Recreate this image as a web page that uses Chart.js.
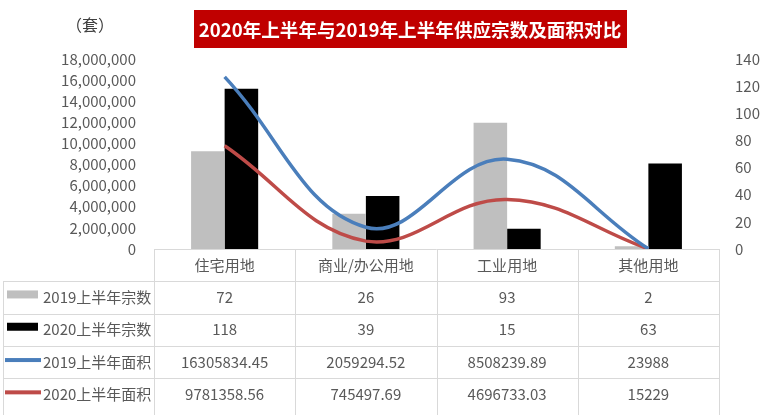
<!DOCTYPE html>
<html>
<head>
<meta charset="utf-8">
<script src="https://cdn.jsdelivr.net/npm/chart.js@4/dist/chart.umd.min.js"></script>
<style>
html,body{margin:0;padding:0;background:#fff;}
#wrap{width:767px;height:415px;position:relative;}
</style>
</head>
<body>
<div id="wrap"><canvas id="c" width="767" height="415"></canvas></div>
<script>
const categories = ['住宅用地', '商业/办公用地', '工业用地', '其他用地'];
const count2019 = [72, 26, 93, 2];
const count2020 = [118, 39, 15, 63];
const area2019 = [16305834.45, 2059294.52, 8508239.89, 23988];
const area2020 = [9781358.56, 745497.69, 4696733.03, 15229];
const areaLabels2019 = ['16305834.45', '2059294.52', '8508239.89', '23988'];
const areaLabels2020 = ['9781358.56', '745497.69', '4696733.03', '15229'];
const seriesNames = ['2019上半年宗数', '2020上半年宗数', '2019上半年面积', '2020上半年面积'];
const titleText = '2020年上半年与2019年上半年供应宗数及面积对比';
const unitText = '（套）';

const FONT = '"Noto Sans CJK SC", "Noto Sans", sans-serif';
const TXT = '#595959';
const GRID = '#d9d9d9';
const colors = ['#bfbfbf', '#000000', '#4a7ebb', '#be4b48'];

const tablePlugin = {
  id: 'tablePlugin',
  afterDraw(chart) {
    const ctx = chart.ctx;
    const ca = chart.chartArea;
    const x = chart.scales.x;
    const left = ca.left, right = ca.right, top = ca.bottom;
    const rowH = 32.3;
    const legendLeft = 3;
    ctx.save();
    ctx.strokeStyle = GRID;
    ctx.lineWidth = 1;
    const n = categories.length;
    const colW = (right - left) / n;
    ctx.beginPath();
    for (let i = 0; i <= n; i++) {
      const xx = Math.round(left + i * colW) + 0.5;
      ctx.moveTo(xx, top);
      ctx.lineTo(xx, 415);
    }
    ctx.moveTo(legendLeft + 0.5, top + rowH);
    ctx.lineTo(legendLeft + 0.5, 415);
    ctx.moveTo(left, Math.round(top) + 0.5);
    ctx.lineTo(right, Math.round(top) + 0.5);
    for (let r = 1; r <= 4; r++) {
      const yy = Math.round(top + r * rowH) + 0.5;
      ctx.moveTo(legendLeft, yy);
      ctx.lineTo(right, yy);
    }
    ctx.stroke();

    ctx.fillStyle = TXT;
    ctx.font = '15px ' + FONT;
    ctx.textAlign = 'center';
    ctx.textBaseline = 'middle';
    categories.forEach((c, i) => {
      ctx.fillText(c, x.getPixelForValue(i), top + rowH / 2);
    });
    const rows = [
      count2019.map(String),
      count2020.map(String),
      areaLabels2019,
      areaLabels2020
    ];
    rows.forEach((row, r) => {
      const cy = top + rowH * (r + 1) + rowH / 2;
      row.forEach((v, i) => {
        ctx.fillText(v, x.getPixelForValue(i), cy);
      });
    });
    rows.forEach((row, r) => {
      const cy = top + rowH * (r + 1) + rowH / 2;
      ctx.fillStyle = colors[r];
      if (r < 2) {
        ctx.fillRect(7, cy - 7, 31, 8);
      } else {
        ctx.fillRect(5, cy - 4, 36, 4);
      }
      ctx.fillStyle = TXT;
      ctx.textAlign = 'left';
      ctx.fillText(seriesNames[r], 43, cy);
      ctx.textAlign = 'center';
    });

    ctx.fillStyle = '#c00000';
    ctx.fillRect(194, 10, 433, 38);
    ctx.fillStyle = '#ffffff';
    ctx.font = 'bold 18.6px ' + FONT;
    ctx.textAlign = 'center';
    ctx.fillText(titleText, 410, 29.5);

    ctx.fillStyle = '#404040';
    ctx.font = '16px ' + FONT;
    ctx.fillText(unitText, 90, 25);
    ctx.restore();
  }
};

new Chart(document.getElementById('c'), {
  type: 'bar',
  data: {
    labels: categories,
    datasets: [
      { type: 'line', label: seriesNames[2], data: area2019, yAxisID: 'y', borderColor: colors[2], borderWidth: 3.5, pointRadius: 0, tension: 0.4, fill: false, order: 0 },
      { type: 'line', label: seriesNames[3], data: area2020, yAxisID: 'y', borderColor: colors[3], borderWidth: 3.5, pointRadius: 0, tension: 0.4, fill: false, order: 0 },
      { type: 'bar', label: seriesNames[0], data: count2019, yAxisID: 'y1', backgroundColor: colors[0], categoryPercentage: 0.475, barPercentage: 1, order: 1 },
      { type: 'bar', label: seriesNames[1], data: count2020, yAxisID: 'y1', backgroundColor: colors[1], categoryPercentage: 0.475, barPercentage: 1, order: 1 }
    ]
  },
  options: {
    responsive: false,
    animation: false,
    layout: { padding: { top: 59, bottom: 166, left: 0, right: 0 } },
    plugins: { legend: { display: false }, tooltip: { enabled: false }, title: { display: false } },
    scales: {
      x: { display: false, offset: true },
      y: {
        position: 'left', min: 0, max: 18000000,
        ticks: { stepSize: 2000000, padding: 18, color: TXT, font: { size: 15, family: FONT },
          callback: v => Number(v).toLocaleString('en-US') },
        grid: { display: false, drawTicks: false }, border: { display: false },
        afterFit(s) { s.width = 154; }
      },
      y1: {
        position: 'right', min: 0, max: 140,
        ticks: { stepSize: 20, padding: 16, color: TXT, font: { size: 15, family: FONT } },
        grid: { display: false, drawTicks: false }, border: { display: false },
        afterFit(s) { s.width = 48; }
      }
    }
  },
  plugins: [tablePlugin]
});
</script>
</body>
</html>
